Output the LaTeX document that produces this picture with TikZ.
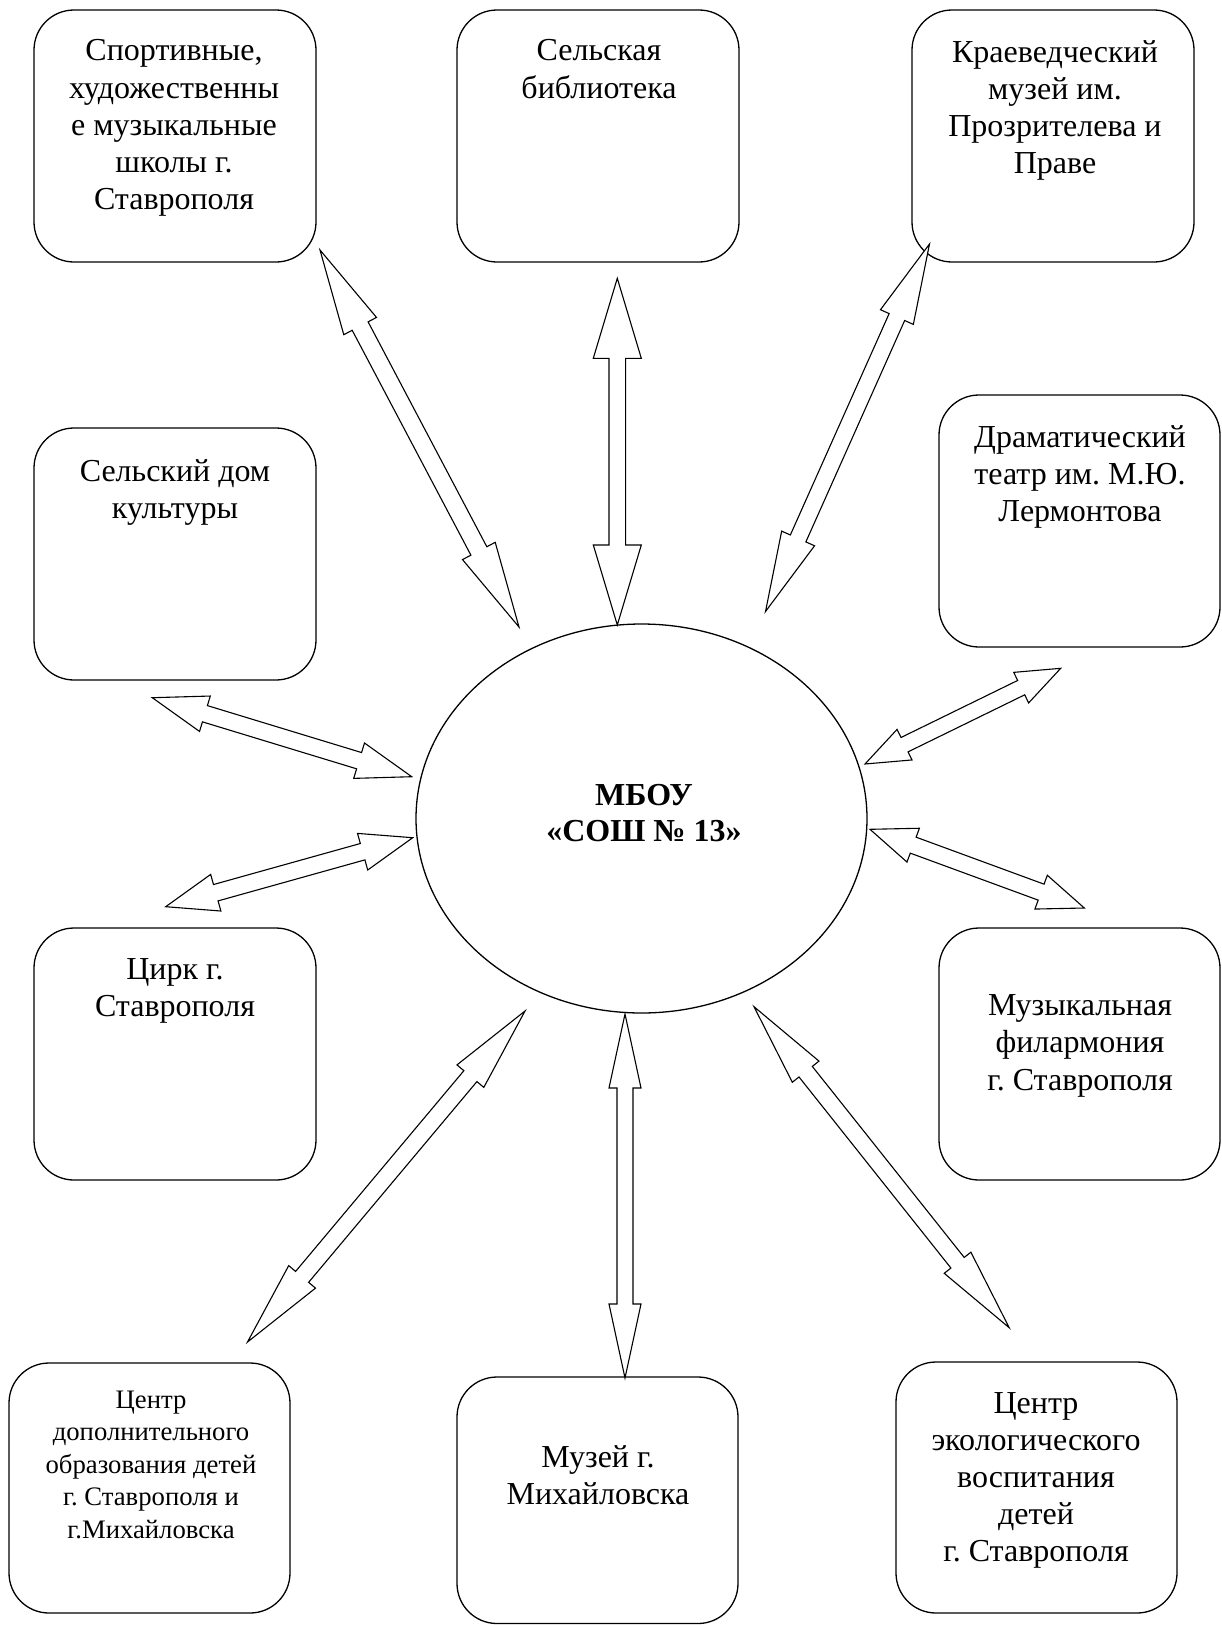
\documentclass[tikz,border=0pt]{standalone}
\usepackage{fontspec}
\setmainfont{Liberation Serif}
\usetikzlibrary{calc,shapes.geometric}

% double block arrow between two named coordinates
% #1 from, #2 to, #3 half shaft width, #4 half head width, #5 head length
\newcommand{\dblarrow}[5]{%
  \draw[blockarrow] (#1)
   -- ($ ($(#1)!#5!(#2)$)!#4!90:(#2) $)
   -- ($ ($(#1)!#5!(#2)$)!#3!90:(#2) $)
   -- ($ ($(#2)!#5!(#1)$)!#3!-90:(#1) $)
   -- ($ ($(#2)!#5!(#1)$)!#4!-90:(#1) $)
   -- (#2)
   -- ($ ($(#2)!#5!(#1)$)!#4!90:(#1) $)
   -- ($ ($(#2)!#5!(#1)$)!#3!90:(#1) $)
   -- ($ ($(#1)!#5!(#2)$)!#3!-90:(#2) $)
   -- ($ ($(#1)!#5!(#2)$)!#4!-90:(#2) $)
   -- cycle;}

\begin{document}
\frenchspacing
\begin{tikzpicture}[x=1pt,y=-1pt,
  box/.style={draw, line width=1.3pt, rounded corners=40pt, minimum width=282pt, minimum height=252pt, inner sep=0pt},
  txt/.style={anchor=north, align=center, inner sep=0pt, font=\fontsize{32}{37.2}\selectfont},
  smalltxt/.style={anchor=north, align=center, inner sep=0pt, font=\fontsize{26.7}{32.5}\selectfont},
  blockarrow/.style={draw, line width=1.1pt, fill=white, line join=miter}]

\fill[white] (0,0) rectangle (1221,1625);
\useasboundingbox (0,0) rectangle (1221,1625);

% boxes
\node[box] (b1) at (175,136) {};
\node[box] (b2) at (598,136) {};
\node[box] (b3) at (1053,136) {};
\node[box] (b4) at (175,554) {};
\node[box, minimum width=281pt] (b5) at (1079.5,521) {};
\node[box] (b6) at (175,1054) {};
\node[box, minimum width=281pt] (b7) at (1079.5,1054) {};
\node[box, minimum width=281pt, minimum height=250pt] (b8) at (149.5,1488) {};
\node[box, minimum width=281pt, minimum height=246.5pt] (b9) at (597.5,1500.25) {};
\node[box, minimum width=281pt, minimum height=251pt] (b10) at (1036.5,1487.5) {};

% texts
\node[txt] (t1) at (174,39.5) {Спортивные,\\художественны\\е музыкальные\\школы г.\\Ставрополя};
\node[txt] (t2) at (599,39.5) {Сельская\\библиотека};
\node[txt] (t3) at (1055,40) {Краеведческий\\музей им.\\Прозрителева и\\Праве};
\node[txt] (t4) at (175,459.5) {Сельский дом\\культуры};
\node[txt] (t5) at (1080,425) {Драматический\\театр им. М.Ю.\\Лермонтова};
\node[txt] (t6) at (175,958.5) {Цирк г.\\Ставрополя};
\node[txt] (t7) at (1080,994.5) {Музыкальная\\филармония\\г. Ставрополя};
\node[smalltxt] (t8) at (151,1390.3) {Центр\\дополнительного\\образования детей\\г. Ставрополя и\\г.Михайловска};
\node[txt] (t9) at (598,1445) {Музей г.\\Михайловска};
\node[txt] (t10) at (1036,1392) {Центр\\экологического\\воспитания\\детей\\г. Ставрополя};

% central ellipse
\node[draw, ellipse, line width=1.3pt, minimum width=451pt, minimum height=389pt, inner sep=0pt] (school) at (641.5,818.5) {};
\node[font=\bfseries\fontsize{32}{36}\selectfont, align=center, inner sep=0pt] (schooltxt) at (644,813.4) {МБОУ\\«СОШ № 13»};

% arrow end points
\coordinate (a1) at (152.3,697.7);  \coordinate (a2) at (411.7,776.7);
\coordinate (bb1) at (165.7,906.7); \coordinate (bb2) at (412.7,837.7);
\coordinate (c1) at (865,764);      \coordinate (c2) at (1060.7,668.3);
\coordinate (d1) at (870,829.3);    \coordinate (d2) at (1084.3,908);
\coordinate (e1) at (320,250);      \coordinate (e2) at (519,627);
\coordinate (f1) at (617.3,278.3);  \coordinate (f2) at (617.3,625);
\coordinate (g1) at (929.5,244);    \coordinate (g2) at (765.5,611.5);
\coordinate (h1) at (525,1011);     \coordinate (h2) at (247.5,1342);
\coordinate (i1) at (625,1014);     \coordinate (i2) at (625,1378);
\coordinate (j1) at (754,1006.7);   \coordinate (j2) at (1009.2,1327.7);

\dblarrow{a1}{a2}{8.5pt}{18.5pt}{55pt}
\dblarrow{bb1}{bb2}{8.5pt}{19pt}{52pt}
\dblarrow{c1}{c2}{8pt}{17pt}{44pt}
\dblarrow{d1}{d2}{8.5pt}{18pt}{46pt}
\dblarrow{e1}{e2}{9pt}{18.5pt}{86pt}
\dblarrow{f1}{f2}{8.3pt}{24pt}{80pt}
\dblarrow{g1}{g2}{8.5pt}{18pt}{80pt}
\dblarrow{h1}{h2}{8.5pt}{17.5pt}{85pt}
\dblarrow{i1}{i2}{8pt}{16pt}{74pt}
\dblarrow{j1}{j2}{8.5pt}{17pt}{83pt}
\end{tikzpicture}
\end{document}
